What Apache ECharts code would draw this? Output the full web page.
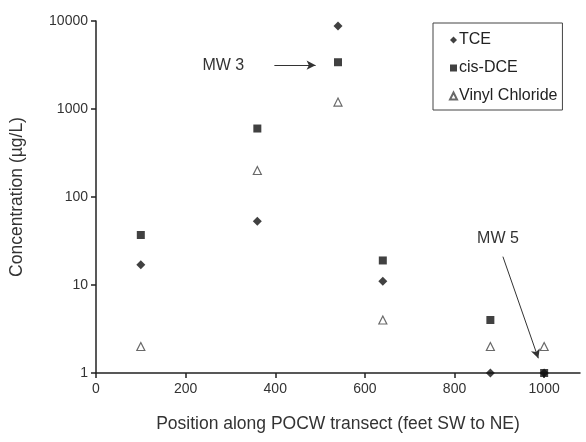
<!DOCTYPE html>
<html>
<head>
<meta charset="utf-8">
<script src="https://cdn.jsdelivr.net/npm/echarts@6/dist/echarts.min.js"></script>
<style>html,body{margin:0;padding:0;background:#fff}#c{width:586px;height:442px}</style>
</head>
<body>
<div id="c"></div>
<script>
var positions = [100, 360, 540, 640, 880, 1000];
var tce = [17, 53, 8800, 11, 1, 1];
var cisDce = [37, 600, 3400, 19, 4, 1];
var vinylChloride = [2, 200, 1200, 4, 2, 2];
var xTicks = [0, 200, 400, 600, 800, 1000];
var yTicks = [1, 10, 100, 1000, 10000];
var seriesNames = ['TCE', 'cis-DCE', 'Vinyl Chloride'];

function pairs(vals) { return positions.map(function (p, i) { return [p, vals[i]]; }); }

var font = '"Liberation Sans", Arial, sans-serif';
var chart = echarts.init(document.getElementById('c'), null, {renderer: 'canvas'});
chart.setOption({
  animation: false,
  backgroundColor: '#fff',
  grid: {left: 94, right: 6, top: 21, bottom: 69, containLabel: false},
  legend: {
    data: seriesNames,
    orient: 'vertical',
    left: 433, top: 23,
    padding: [9, 5, 6, 16],
    itemGap: 12,
    itemWidth: 7, itemHeight: 7,
    borderColor: '#444', borderWidth: 1,
    backgroundColor: '#fff',
    textStyle: {fontFamily: font, fontSize: 16, color: '#222', padding: [0, 0, 0, -3]}
  },
  xAxis: {
    type: 'value', min: 0, max: 1080, interval: 200,
    name: 'Position along POCW transect (feet SW to NE)',
    nameLocation: 'middle', nameGap: 42,
    nameTextStyle: {fontFamily: font, fontSize: 17.5, color: '#333'},
    axisLine: {lineStyle: {color: '#222', width: 1.5}},
    axisTick: {show: true, length: 5, lineStyle: {color: '#222', width: 1.5}},
    axisLabel: {fontFamily: font, fontSize: 14, color: '#333', margin: 9, showMaxLabel: false,
      formatter: function (v) { return xTicks.indexOf(v) >= 0 ? String(v) : ''; }},
    splitLine: {show: false}
  },
  yAxis: {
    type: 'log', logBase: 10, min: yTicks[0], max: yTicks[yTicks.length - 1],
    name: 'Concentration (µg/L)',
    nameLocation: 'middle', nameGap: 70,
    nameTextStyle: {fontFamily: font, fontSize: 17.5, color: '#333'},
    axisLine: {show: true, lineStyle: {color: '#222', width: 1.5}},
    axisTick: {show: true, length: 5, lineStyle: {color: '#222', width: 1.5}},
    axisLabel: {fontFamily: font, fontSize: 14, color: '#333', margin: 8,
      formatter: function (v) { return String(Math.round(v)); }},
    splitLine: {show: false},
    minorTick: {show: false}
  },
  series: [
    {
      name: 'TCE', type: 'scatter', symbol: 'diamond', symbolSize: 9,
      itemStyle: {color: '#111'},
      data: pairs(tce), z: 3
    },
    {
      name: 'cis-DCE', type: 'scatter', symbol: 'rect', symbolSize: 8,
      itemStyle: {color: '#111'},
      data: pairs(cisDce), z: 4,
      markLine: {
        silent: true, symbol: ['none', 'arrow'], symbolSize: [7, 9],
        lineStyle: {color: '#333', width: 1, type: 'solid'},
        label: {show: false},
        data: [
          [{coord: [398, 3150]}, {coord: [490, 3150]}],
          [{coord: [908, 21]}, {coord: [987, 1.47]}]
        ]
      },
      markPoint: {
        silent: true, symbol: 'circle', symbolSize: 0,
        label: {show: true, position: 'inside', fontFamily: font, fontSize: 16, color: '#333',
          formatter: function (p) { return p.name; }},
        data: [
          {name: 'MW 3', coord: [284, 3150]},
          {name: 'MW 5', coord: [897, 34]}
        ]
      }
    },
    {
      name: 'Vinyl Chloride', type: 'scatter', symbol: 'triangle', symbolSize: 8,
      itemStyle: {color: '#fff', borderColor: '#444', borderWidth: 1.2},
      data: pairs(vinylChloride), z: 2
    }
  ]
});
</script>
</body>
</html>
